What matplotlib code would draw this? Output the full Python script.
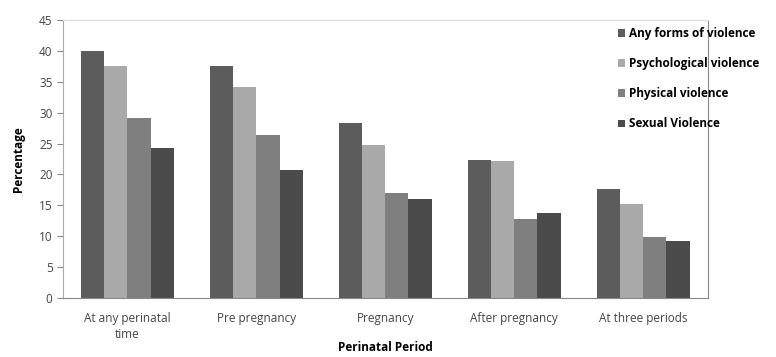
import numpy as np
import matplotlib.pyplot as plt

# Perinatal periods and violence prevalence (%)
periods = ['At any perinatal\ntime', 'Pre pregnancy', 'Pregnancy',
           'After pregnancy', 'At three periods']
any_forms = [40.0, 37.5, 28.3, 22.4, 17.6]
psychological = [37.6, 34.2, 24.8, 22.2, 15.2]
physical = [29.2, 26.4, 17.0, 12.8, 9.9]
sexual = [24.3, 20.7, 16.0, 13.7, 9.2]

series = [
    ('Any forms of violence', any_forms, '#5c5c5c'),
    ('Psychological violence', psychological, '#a9a9a9'),
    ('Physical violence', physical, '#7f7f7f'),
    ('Sexual Violence', sexual, '#4b4b4b'),
]

plt.rcParams['font.family'] = ['Open Sans', 'DejaVu Sans']

fig = plt.figure(figsize=(7.76, 3.57), dpi=100)
ax = fig.add_axes([0.081, 0.165, 0.831, 0.779])

x = np.arange(len(periods))
w = 0.18
for i, (name, vals, col) in enumerate(series):
    ax.bar(x + (i - 1.5) * w, vals, w, color=col, label=name)

ax.set_xlim(-0.5, 4.5)
ax.set_ylim(0, 45)
ax.set_yticks(range(0, 46, 5))
ax.set_xticks(x)
ax.set_xticklabels(periods, fontsize=8.5, color='#444444', linespacing=1.35)
ax.tick_params(axis='y', labelsize=8.5, colors='#444444', length=4, color='#888888')
ax.tick_params(axis='x', length=0, pad=10)

ax.spines['left'].set_color('#aaaaaa')
ax.spines['bottom'].set_color('#888888')
ax.spines['top'].set_color('#dddddd')
ax.spines['right'].set_color('#888888')

ax.set_ylabel('Percentage', fontsize=8.5, fontweight='bold', labelpad=10)
ax.set_xlabel('Perinatal Period', fontsize=8.5, fontweight='bold', labelpad=0)

ax.legend(loc='upper left', bbox_to_anchor=(0.85, 1.0), frameon=False,
          prop={'weight': 'bold', 'size': 8.5},
          handlelength=0.6, handleheight=0.6, handletextpad=0.3,
          labelspacing=1.45, borderaxespad=0.2)

fig.savefig('out.png', dpi=100)
